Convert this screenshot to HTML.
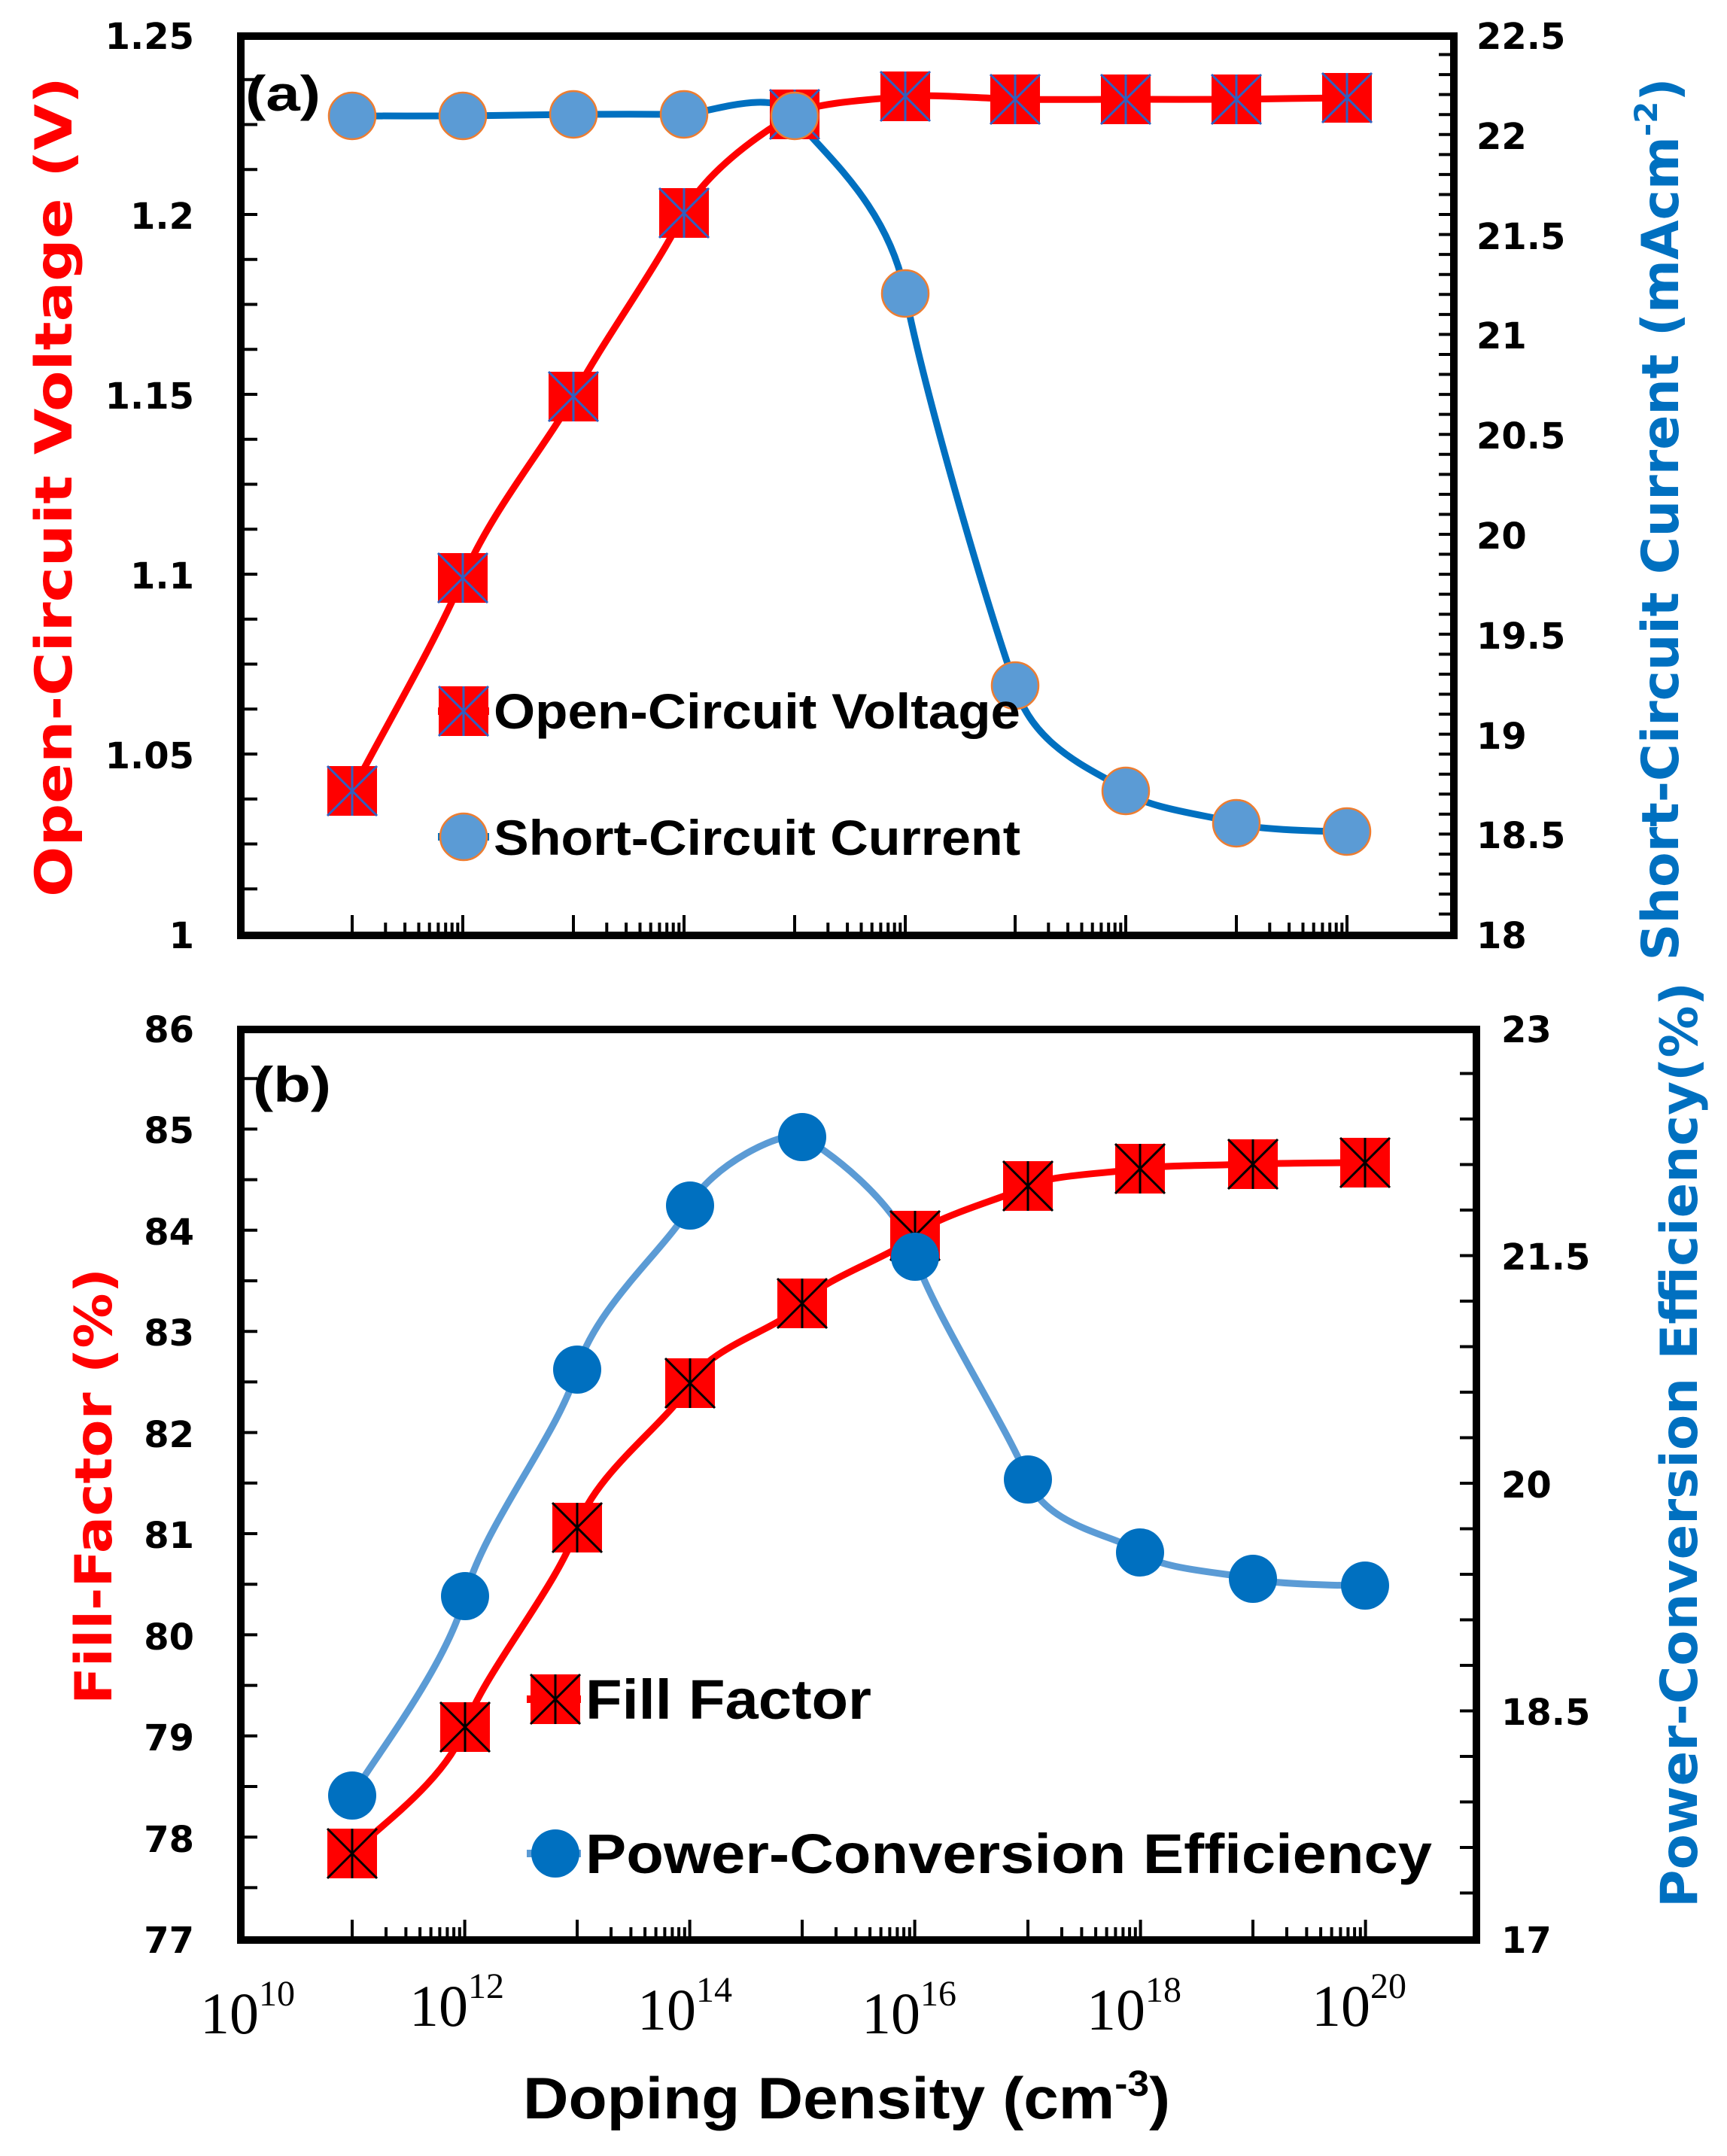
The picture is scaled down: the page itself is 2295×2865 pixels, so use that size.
<!DOCTYPE html>
<html><head><meta charset="utf-8"><style>html,body{margin:0;padding:0;background:#fff}svg{display:block}</style></head>
<body>
<svg width="2295" height="2865" viewBox="0 0 2295 2865" xmlns="http://www.w3.org/2000/svg" font-family="'Liberation Sans', sans-serif">
<defs>
<g id="sqA"><rect x="-33" y="-33" width="66" height="66" fill="#FF0000"/><path d="M-33,-33L33,33M33,-33L-33,33M0,-33L0,33" stroke="#3060c0" stroke-width="3" fill="none"/></g>
<g id="sqB"><rect x="-33" y="-33" width="66" height="66" fill="#FF0000"/><path d="M-33,-33L33,33M33,-33L-33,33M0,-33L0,33" stroke="#000" stroke-width="3" fill="none"/></g>
<circle id="ciA" r="31" fill="#5B9BD5" stroke="#ED7D31" stroke-width="2.5"/>
<circle id="ciB" r="32" fill="#0070C0"/>
<path id="decT" d="M0,0v-24M44.3,0v-14M70.1,0v-14M88.5,0v-14M102.7,0v-14M114.4,0v-14M124.2,0v-14M132.7,0v-14M140.3,0v-14M147,0v-24" stroke="#000" stroke-width="4" fill="none"/>
<path id="decB" d="M0,0v-24M45,0v-14M71.4,0v-14M90.1,0v-14M104.6,0v-14M116.4,0v-14M126.4,0v-14M135.1,0v-14M142.8,0v-14M149.6,0v-24" stroke="#000" stroke-width="4" fill="none"/>
</defs>
<rect width="2295" height="2865" fill="#fff"/>

<rect x="320" y="48" width="1612" height="1195" fill="none" stroke="#000" stroke-width="10"/>
<rect x="320" y="1368" width="1642" height="1210" fill="none" stroke="#000" stroke-width="10"/>
<line x1="332" y1="46" x2="332" y2="1245" stroke="#000" stroke-width="20" stroke-dasharray="4 55.75" stroke-dashoffset="-57.75"/>
<line x1="1922" y1="46" x2="1922" y2="1245" stroke="#000" stroke-width="20" stroke-dasharray="4 22.56" stroke-dashoffset="-24.56"/>
<line x1="332" y1="1366" x2="332" y2="2580" stroke="#000" stroke-width="20" stroke-dasharray="4 63.2" stroke-dashoffset="-65.2"/>
<line x1="1950" y1="1366" x2="1950" y2="2580" stroke="#000" stroke-width="20" stroke-dasharray="4 56.5" stroke-dashoffset="-58.5"/>
<use href="#decT" x="468" y="1240"/><use href="#decT" x="762" y="1240"/><use href="#decT" x="1056" y="1240"/><use href="#decT" x="1349" y="1240"/><use href="#decT" x="1643" y="1240"/>
<use href="#decB" x="468" y="2575"/><use href="#decB" x="767" y="2575"/><use href="#decB" x="1066" y="2575"/><use href="#decB" x="1366" y="2575"/><use href="#decB" x="1665" y="2575"/>

<g font-family="'DejaVu Sans', sans-serif" font-weight="bold" font-size="48" fill="#000">
<g text-anchor="end">
<text x="258" y="65">1.25</text><text x="258" y="304">1.2</text><text x="258" y="543">1.15</text>
<text x="258" y="782">1.1</text><text x="258" y="1021">1.05</text><text x="258" y="1260">1</text>
<text x="258" y="1385">86</text><text x="258" y="1519">85</text><text x="258" y="1654">84</text>
<text x="258" y="1788">83</text><text x="258" y="1923">82</text><text x="258" y="2057">81</text>
<text x="258" y="2192">80</text><text x="258" y="2326">79</text><text x="258" y="2461">78</text><text x="258" y="2595">77</text>
</g>
<text x="1962" y="65">22.5</text><text x="1962" y="198">22</text><text x="1962" y="331">21.5</text>
<text x="1962" y="463">21</text><text x="1962" y="596">20.5</text><text x="1962" y="729">20</text>
<text x="1962" y="862">19.5</text><text x="1962" y="995">19</text><text x="1962" y="1127">18.5</text><text x="1962" y="1260">18</text>
<text x="1995" y="1385">23</text><text x="1995" y="1687">21.5</text><text x="1995" y="1990">20</text>
<text x="1995" y="2292">18.5</text><text x="1995" y="2595">17</text>
</g>

<text transform="translate(95,647) rotate(-90)" text-anchor="middle" font-family="'DejaVu Sans', sans-serif" font-weight="bold" font-size="68" fill="#FF0000" textLength="1090" lengthAdjust="spacingAndGlyphs">Open-Circuit Voltage (V)</text>
<text transform="translate(2230,690) rotate(-90)" text-anchor="middle" font-family="'DejaVu Sans', sans-serif" font-weight="bold" font-size="68" fill="#0070C0">Short-Circuit Current (mAcm<tspan font-size="42" dy="-28">-2</tspan><tspan dy="28">)</tspan></text>
<text transform="translate(148,1975) rotate(-90)" text-anchor="middle" font-family="'DejaVu Sans', sans-serif" font-weight="bold" font-size="68" fill="#FF0000" textLength="580" lengthAdjust="spacingAndGlyphs">Fill-Factor (%)</text>
<text transform="translate(2255,1920) rotate(-90)" text-anchor="middle" font-family="'DejaVu Sans', sans-serif" font-weight="bold" font-size="68" fill="#0070C0" textLength="1230" lengthAdjust="spacingAndGlyphs">Power-Conversion Efficiency(%)</text>
<text x="1125" y="2815" text-anchor="middle" font-weight="bold" font-size="78" fill="#000" textLength="860" lengthAdjust="spacingAndGlyphs">Doping Density (cm<tspan font-size="48" dy="-30">-3</tspan><tspan dy="30">)</tspan></text>

<g font-family="'Liberation Serif', serif" font-size="78" fill="#000">
<text x="266" y="2702">10<tspan font-size="48" dy="-37">10</tspan></text>
<text x="544" y="2692">10<tspan font-size="48" dy="-37">12</tspan></text>
<text x="847" y="2697">10<tspan font-size="48" dy="-37">14</tspan></text>
<text x="1145" y="2702">10<tspan font-size="48" dy="-37">16</tspan></text>
<text x="1444" y="2697">10<tspan font-size="48" dy="-37">18</tspan></text>
<text x="1743" y="2692">10<tspan font-size="48" dy="-37">20</tspan></text>
</g>
<text x="326" y="147" font-size="66" font-weight="bold" fill="#000" textLength="100" lengthAdjust="spacingAndGlyphs">(a)</text>
<text x="336" y="1464" font-size="66" font-weight="bold" fill="#000" textLength="104" lengthAdjust="spacingAndGlyphs">(b)</text>

<path fill="none" stroke="#FF0000" stroke-width="9" d="M468,1051 C510,970 575,860 615,768 C655,676 720,600 762,527 C800,455 870,360 909,283 C940,225 1020,170 1056,152 C1080.5,135 1178.5,131.3 1203,128 C1227.5,124.7 1324.5,131.3 1349,132 C1373.5,132.7 1471.5,132 1496,132 C1520.5,132 1618.5,132.3 1643,132 C1667.5,131.7 1765.5,130 1790,130"/>
<path fill="none" stroke="#0070C0" stroke-width="9" d="M468,154 C492.5,154 590.5,154.3 615,154 C639.5,153.7 737.5,152.3 762,152 C786.5,151.7 884.5,151.7 909,152 C933.5,152.3 1031.5,114.3 1056,154 C1080.5,193.7 1178.5,263.8 1203,390 C1227.5,516.2 1310,800.8 1349,911 C1373.5,1000 1471.5,1030 1496,1051 C1520.5,1075 1618.5,1085 1643,1094 C1667.5,1103 1765.5,1105 1790,1105"/>
<use href="#sqA" x="468" y="1051"/><use href="#sqA" x="615" y="768"/><use href="#sqA" x="762" y="527"/><use href="#sqA" x="909" y="283"/><use href="#sqA" x="1056" y="152"/><use href="#sqA" x="1203" y="128"/><use href="#sqA" x="1349" y="132"/><use href="#sqA" x="1496" y="132"/><use href="#sqA" x="1643" y="132"/><use href="#sqA" x="1790" y="130"/>
<use href="#ciA" x="468" y="154"/><use href="#ciA" x="615" y="154"/><use href="#ciA" x="762" y="152"/><use href="#ciA" x="909" y="152"/><use href="#ciA" x="1056" y="154"/><use href="#ciA" x="1203" y="390"/><use href="#ciA" x="1349" y="911"/><use href="#ciA" x="1496" y="1051"/><use href="#ciA" x="1643" y="1094"/><use href="#ciA" x="1790" y="1105"/>

<path fill="none" stroke="#FF0000" stroke-width="9" d="M468,2463 C493,2435 593,2367.2 618,2295 C643,2222.8 742,2106.2 767,2030 C792,1953.8 892,1887.7 917,1838 C942,1788.3 1041,1764.7 1066,1732 C1091,1699.3 1191,1668 1216,1642 C1241,1616 1341,1590.8 1366,1576 C1391,1561.2 1490,1557.8 1515,1553 C1540,1548.2 1640,1548.3 1665,1547 C1690,1545.7 1789,1545 1814,1545"/>
<path fill="none" stroke="#5B9BD5" stroke-width="9" d="M468,2386 C493,2341.8 593,2215.3 618,2121 C643,2026.7 742,1906.5 767,1820 C792,1733.5 892,1653.5 917,1602 C942,1550.5 1041,1499.7 1066,1511 C1091,1522.3 1191,1594.2 1216,1670 C1241,1745.8 1341,1900.5 1366,1966 C1391,2031.5 1490,2041 1515,2063 C1540,2086.5 1640,2090.7 1665,2098 C1690,2105.3 1789,2107 1814,2107"/>
<use href="#sqB" x="468" y="2463"/><use href="#sqB" x="618" y="2295"/><use href="#sqB" x="767" y="2030"/><use href="#sqB" x="917" y="1838"/><use href="#sqB" x="1066" y="1732"/><use href="#sqB" x="1216" y="1642"/><use href="#sqB" x="1366" y="1576"/><use href="#sqB" x="1515" y="1553"/><use href="#sqB" x="1665" y="1547"/><use href="#sqB" x="1814" y="1545"/>
<use href="#ciB" x="468" y="2386"/><use href="#ciB" x="618" y="2121"/><use href="#ciB" x="767" y="1820"/><use href="#ciB" x="917" y="1602"/><use href="#ciB" x="1066" y="1511"/><use href="#ciB" x="1216" y="1670"/><use href="#ciB" x="1366" y="1966"/><use href="#ciB" x="1515" y="2063"/><use href="#ciB" x="1665" y="2098"/><use href="#ciB" x="1814" y="2107"/>

<line x1="582" x2="650" y1="945" y2="945" stroke="#FF0000" stroke-width="10"/><use href="#sqA" x="616" y="945"/>
<line x1="582" x2="650" y1="1112" y2="1112" stroke="#0070C0" stroke-width="10"/><use href="#ciA" x="616" y="1112"/>
<line x1="700" x2="772" y1="2258" y2="2258" stroke="#FF0000" stroke-width="10"/><use href="#sqB" x="738" y="2258"/>
<line x1="700" x2="772" y1="2463" y2="2463" stroke="#5B9BD5" stroke-width="10"/><use href="#ciB" x="738" y="2463"/>
<g font-size="66" font-weight="bold" fill="#000">
<text x="656" y="968" textLength="700" lengthAdjust="spacingAndGlyphs">Open-Circuit Voltage</text>
<text x="656" y="1136" textLength="700" lengthAdjust="spacingAndGlyphs">Short-Circuit Current</text>
<text x="778" y="2284" font-size="74" textLength="380" lengthAdjust="spacingAndGlyphs">Fill Factor</text>
<text x="778" y="2489" font-size="74" textLength="1125" lengthAdjust="spacingAndGlyphs">Power-Conversion Efficiency</text>
</g>
</svg>
</body></html>
